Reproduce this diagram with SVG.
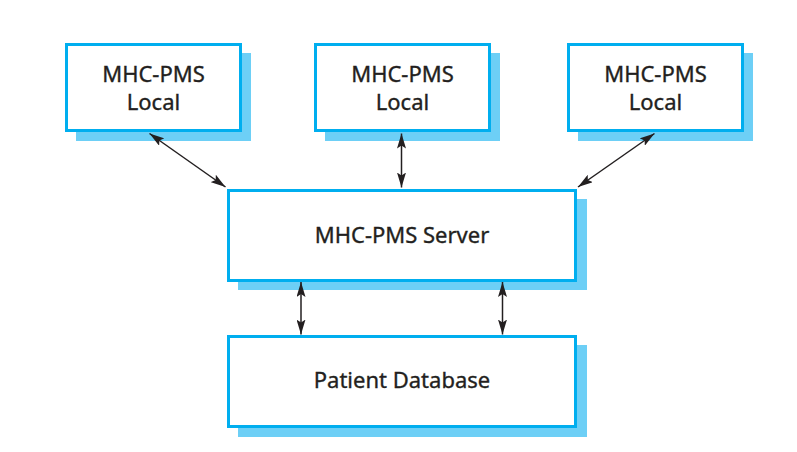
<svg xmlns="http://www.w3.org/2000/svg" width="797" height="452" viewBox="0 0 797 452">
<style>
.shadow{fill:#6DCFF6;stroke:none}
.box{fill:#ffffff;stroke:#00AEEF;stroke-width:3}
.lbl{font-family:"Noto Sans","Open Sans","Liberation Sans",sans-serif;font-size:22px;fill:#231F20;stroke:#231F20;stroke-width:0.35;text-anchor:middle}
.conn{stroke:#231F20;stroke-width:1.5;fill:none;marker-start:url(#arr);marker-end:url(#arr)}
</style>
<defs>
<marker id="arr" viewBox="0 0 15 9" refX="15" refY="4.5" markerWidth="15" markerHeight="9" markerUnits="userSpaceOnUse" orient="auto-start-reverse">
<path d="M0,0 L15,4.5 L0,9 L3,4.5 Z" fill="#231F20"/>
</marker>
</defs>
<rect width="797" height="452" fill="#ffffff"/>
<g id="local1">
<rect class="shadow" x="76" y="53" width="175" height="88"/>
<rect class="box" x="66.5" y="44.5" width="174" height="86"/>
<text class="lbl" x="153.5" y="82">MHC-PMS</text>
<text class="lbl" x="153.5" y="110">Local</text>
</g>
<g id="local2">
<rect class="shadow" x="325" y="53" width="175" height="88"/>
<rect class="box" x="315.5" y="44.5" width="174" height="86"/>
<text class="lbl" x="402.5" y="82">MHC-PMS</text>
<text class="lbl" x="402.5" y="110">Local</text>
</g>
<g id="local3">
<rect class="shadow" x="578" y="53" width="175" height="88"/>
<rect class="box" x="568.5" y="44.5" width="174" height="86"/>
<text class="lbl" x="655.5" y="82">MHC-PMS</text>
<text class="lbl" x="655.5" y="110">Local</text>
</g>
<g id="server">
<rect class="shadow" x="238" y="199" width="349" height="91"/>
<rect class="box" x="228.5" y="190.5" width="347" height="90"/>
<text class="lbl" x="402" y="243">MHC-PMS Server</text>
</g>
<g id="database">
<rect class="shadow" x="238" y="345" width="349" height="92"/>
<rect class="box" x="228.5" y="336.5" width="347" height="90"/>
<text class="lbl" x="402" y="388">Patient Database</text>
</g>
<g id="connectors">
<line class="conn" x1="149.5" y1="133.5" x2="225.5" y2="187"/>
<line class="conn" x1="401.5" y1="133.5" x2="401.5" y2="187.5"/>
<line class="conn" x1="654.5" y1="133.5" x2="578" y2="187"/>
<line class="conn" x1="301" y1="282" x2="301" y2="334.5"/>
<line class="conn" x1="502.5" y1="282" x2="502.5" y2="334.5"/>
</g>
</svg>
